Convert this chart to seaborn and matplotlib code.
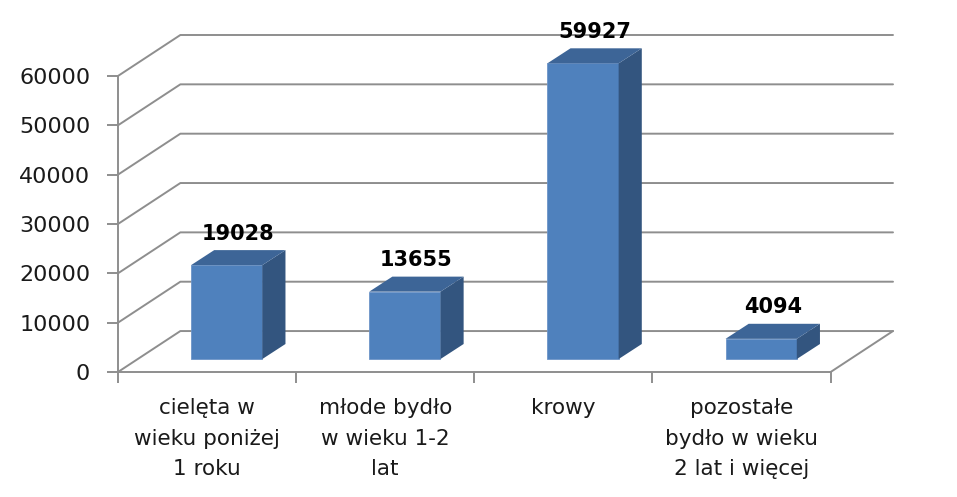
import numpy as np
import pandas as pd
import matplotlib
matplotlib.use('Agg')
import matplotlib.pyplot as plt
import matplotlib.transforms as mtransforms
from matplotlib.patches import Polygon
import seaborn as sns

# dane z wykresu
categories = ['cielęta w\nwieku poniżej\n1 roku',
              'młode bydło\nw wieku 1-2\nlat',
              'krowy',
              'pozostałe\nbydło w wieku\n2 lat i więcej']
values = [19028, 13655, 59927, 4094]
y_ticks = [0, 10000, 20000, 30000, 40000, 50000, 60000]

sns.set_theme(style='white')
plt.rcParams['font.family'] = ['DejaVu Sans']

df = pd.DataFrame({'kategoria': categories, 'liczba': values})

# glebokosc "3D" w jednostkach danych
wall_dx, wall_dy = 0.35, 8300
bar_dx, bar_dy = 0.13, 3050
front_dx, front_dy = (wall_dx - bar_dx) / 2, (wall_dy - bar_dy) / 2
ymax = y_ticks[-1]

grid_c = '#8e8e8e'
txt_c = '#1a1a1a'

fig = plt.figure(figsize=(9.57, 4.97), dpi=100)
ax = fig.add_axes([118 / 957, 125 / 497, 775 / 957, 337 / 497])

sns.barplot(data=df, x='kategoria', y='liczba', color='#4f81bd', width=0.4,
            saturation=1, edgecolor='#6d95c8', linewidth=0.6, ax=ax, zorder=3)

# sciany: linie siatki na tylnej i bocznej scianie
for v in y_ticks:
    ax.plot([-0.5, -0.5 + wall_dx, 3.5 + wall_dx], [v, v + wall_dy, v + wall_dy],
            color=grid_c, lw=1.4, zorder=0.5, clip_on=False)
ax.plot([3.5, 3.5 + wall_dx], [0, wall_dy], color=grid_c, lw=1.4, zorder=0.5, clip_on=False)

# przesuniecie slupkow w glab i boki / gora
trans = mtransforms.Affine2D().translate(front_dx, front_dy) + ax.transData
for p, val in zip(ax.patches, values):
    p.set_transform(trans)
    p.set_clip_on(False)
    x0, w, h = p.get_x(), p.get_width(), p.get_height()
    side = Polygon([(x0 + w, 0), (x0 + w + bar_dx, bar_dy), (x0 + w + bar_dx, h + bar_dy), (x0 + w, h)],
                   closed=True, facecolor='#33557f', edgecolor='none', transform=trans,
                   zorder=3, clip_on=False)
    top = Polygon([(x0, h), (x0 + bar_dx, h + bar_dy), (x0 + w + bar_dx, h + bar_dy), (x0 + w, h)],
                  closed=True, facecolor='#3d6597', edgecolor='none', transform=trans,
                  zorder=3, clip_on=False)
    ax.add_patch(side)
    ax.add_patch(top)
    ax.text(x0 + w / 2 + bar_dx / 2, h + bar_dy + 1300, f'{val}', transform=trans,
            ha='center', va='bottom', fontsize=15, fontweight='bold', color='black',
            zorder=5, clip_on=False)

ax.set_xlim(-0.5, 3.5 + wall_dx)
ax.set_ylim(0, ymax + wall_dy)
ax.set_xlabel('')
ax.set_ylabel('')

for s in ['top', 'right']:
    ax.spines[s].set_visible(False)
ax.spines['left'].set_bounds(0, ymax)
ax.spines['bottom'].set_bounds(-0.5, 3.5)
for s in ['left', 'bottom']:
    ax.spines[s].set_color(grid_c)
    ax.spines[s].set_linewidth(1.4)

ax.set_yticks(y_ticks)
ax.set_yticklabels([str(t) for t in y_ticks])
ax.tick_params(axis='y', left=True, direction='out', length=8, width=1.4,
               color=grid_c, labelsize=16, labelcolor=txt_c, pad=12)

ax.set_xticks(range(len(categories)))
ax.set_xticklabels(categories, linespacing=1.65)
ax.set_xticks(np.arange(-0.5, len(categories), 1), minor=True)
ax.tick_params(axis='x', which='major', bottom=False, length=0, labelsize=15.5,
               labelcolor=txt_c, pad=19)
ax.tick_params(axis='x', which='minor', bottom=True, direction='out', length=8,
               width=1.4, color=grid_c)

fig.savefig('out.png', dpi=100)
